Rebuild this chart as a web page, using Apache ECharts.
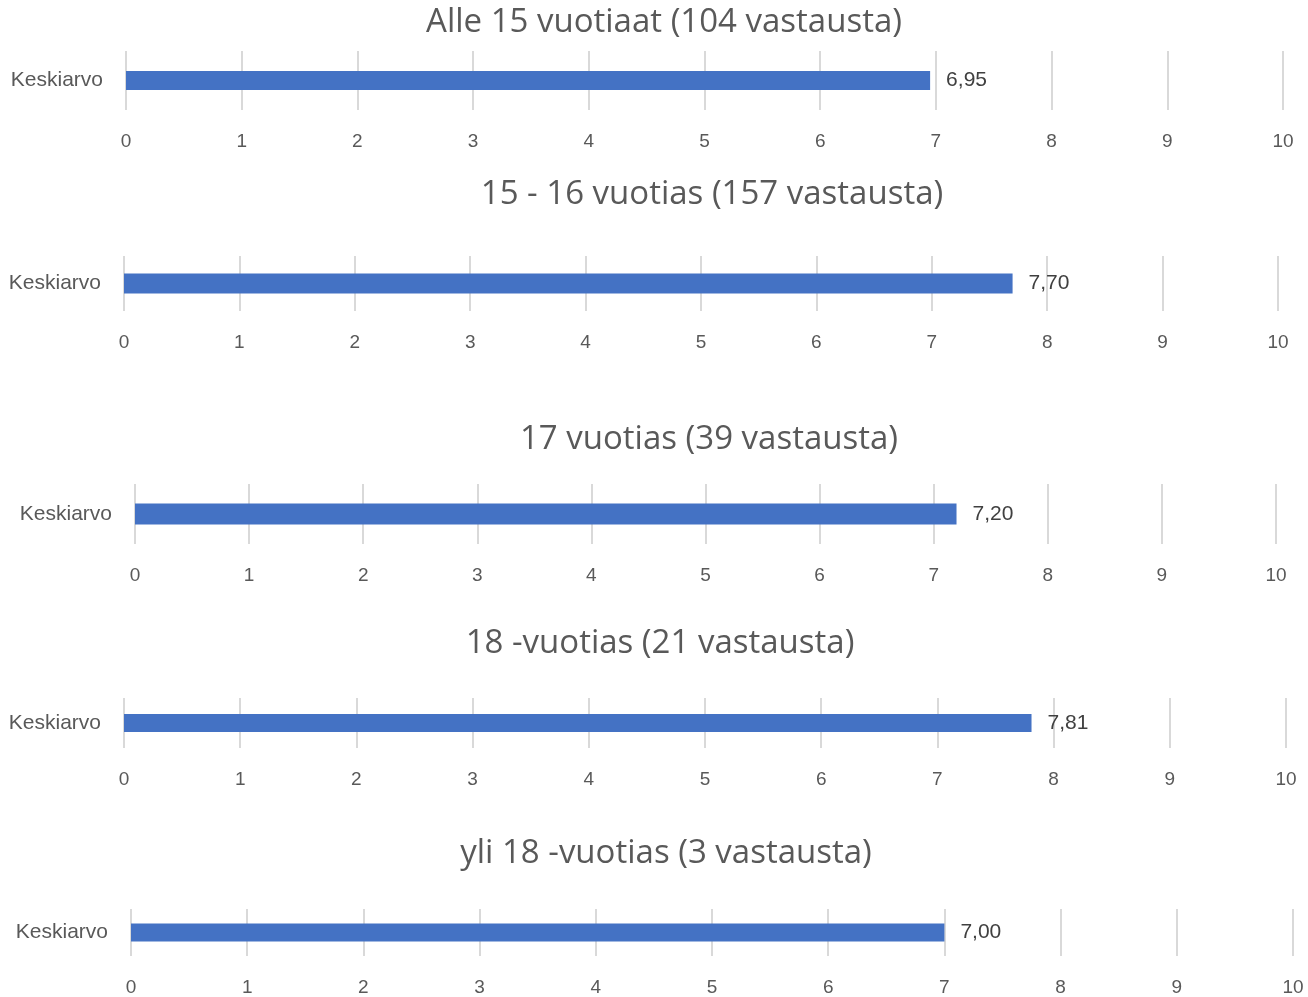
<!DOCTYPE html>
<html>
<head>
<meta charset="utf-8">
<script src="https://cdn.jsdelivr.net/npm/echarts@6/dist/echarts.min.js"></script>
<style>
    html, body { margin: 0; padding: 0; background: #fff; }
    #chart { width: 1308px; height: 997px; }
</style>
</head>
<body>
<div id="chart"></div>
<script>
// data
const titles = [
    "Alle 15 vuotiaat (104 vastausta)",
    "15 - 16 vuotias (157 vastausta)",
    "17 vuotias (39 vastausta)",
    "18 -vuotias (21 vastausta)",
    "yli 18 -vuotias (3 vastausta)"
]
const categories = ["Keskiarvo"]
const averages = [6.95, 7.70, 7.20, 7.81, 7.00]
const axisMin = 0
const axisMax = 10

// panel layout: grid box, bar thickness, title centre
const panels = [
    { top: 51, height: 59, left: 126, right: 25, bar: 19, tx: 664, ty: 22 },
    { top: 256, height: 55, left: 124, right: 30, bar: 20, tx: 712, ty: 194 },
    { top: 484, height: 60, left: 135, right: 32, bar: 21, tx: 709, ty: 439 },
    { top: 698, height: 50, left: 124, right: 22, bar: 18, tx: 660, ty: 643 },
    { top: 909, height: 50, left: 131, right: 15, bar: 18, tx: 666, ty: 853 }
]

const font = "'Liberation Sans', Arial, sans-serif"
const titleFont = "'Open Sans', sans-serif"
const myChart = echarts.init(document.getElementById("chart"))

myChart.setOption({
    animation: false,
    title: panels.map((p, i) => ({
        text: titles[i],
        left: p.tx,
        top: p.ty - 16,
        textAlign: "center",
        padding: 0,
        textStyle: {
            color: "#595959",
            fontFamily: titleFont,
            fontSize: 33,
            fontWeight: "normal"
        }
    })),
    grid: panels.map(p => ({
        top: p.top,
        height: p.height,
        left: p.left,
        right: p.right
    })),
    xAxis: panels.map((p, i) => ({
        type: "value",
        gridIndex: i,
        min: axisMin,
        max: axisMax,
        interval: 1,
        axisLine: { show: false },
        axisTick: { show: false },
        axisLabel: {
            color: "#595959",
            fontFamily: font,
            fontSize: 19,
            margin: 22
        },
        splitLine: {
            show: true,
            lineStyle: { color: "#d9d9d9", width: 2 }
        }
    })),
    yAxis: panels.map((p, i) => ({
        type: "category",
        gridIndex: i,
        data: categories,
        axisLine: { show: false },
        axisTick: { show: false },
        axisLabel: {
            color: "#595959",
            fontFamily: font,
            fontSize: 21,
            margin: 23
        }
    })),
    series: panels.map((p, i) => ({
        type: "bar",
        xAxisIndex: i,
        yAxisIndex: i,
        barWidth: p.bar,
        data: [averages[i]],
        itemStyle: { color: "#4472C4" },
        label: {
            show: true,
            position: "right",
            distance: 16,
            color: "#404040",
            fontFamily: font,
            fontSize: 21,
            formatter: d => d.value.toFixed(2).replace(".", ",")
        }
    }))
})
</script>
</body>
</html>
